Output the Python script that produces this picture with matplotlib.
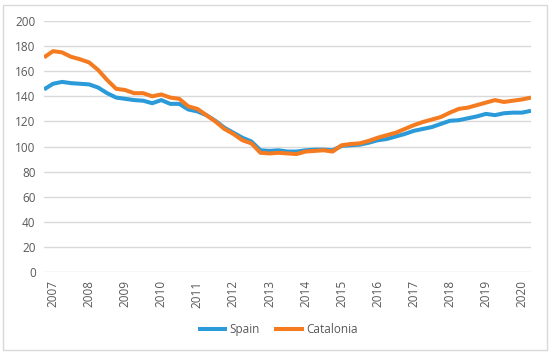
import matplotlib.pyplot as plt
from matplotlib.patches import Rectangle
import numpy as np

plt.rcParams['font.family'] = ['Open Sans', 'DejaVu Sans']

years = [str(y) for y in range(2007, 2021)]

# quarterly index values
spain = [145.5, 150, 151.5, 150.5, 150, 149.5, 147, 142.5, 139, 138,
         137, 136.5, 134.5, 137, 134, 134, 129.5, 128, 125, 120.5,
         115, 111, 107, 104, 97, 96.5, 97, 96, 96, 97,
         97.5, 97.5, 97, 100.5, 101, 101.5, 103, 105, 106, 108,
         110, 112.5, 114, 115.5, 118, 120.5, 121, 122.5, 124, 126,
         125, 126.5, 127, 127, 128.5]
catalonia = [171, 176, 175, 171.5, 169.5, 167, 161, 153, 146, 145,
             142.5, 142.5, 140, 141.5, 139, 138, 132, 130, 125, 120,
             114, 110, 105, 102.5, 95, 94.5, 95, 94.5, 94, 96,
             96.5, 97, 96, 101, 102, 102.5, 104.5, 107, 109, 111,
             114, 117, 119.5, 121.5, 123.5, 127, 130, 131, 133, 135,
             137, 135.5, 136.5, 137.5, 139]

grey = '#595959'
fig = plt.figure(figsize=(5.5, 3.54), dpi=100)
fig.patches.append(Rectangle((0.006, 0.011), 0.988, 0.975, transform=fig.transFigure,
                             fill=False, edgecolor='#d9d9d9', linewidth=1))
ax = fig.add_axes([0.08, 0.2316, 0.8855, 0.709])

x = np.arange(len(spain))
ax.plot(x, spain, color='#2a9ad8', lw=2.9, label='Spain', solid_capstyle='butt')
ax.plot(x, catalonia, color='#f57b20', lw=2.9, label='Catalonia', solid_capstyle='butt')

ax.set_xlim(0, len(spain) - 1)
ax.set_ylim(0, 200)
ax.set_yticks(range(0, 201, 20))
ax.set_xticks(np.arange(1, len(spain), 4))
ax.set_xticklabels(years, rotation=90)
ax.grid(axis='y', color='#d9d9d9', lw=1)
ax.set_axisbelow(True)
for s in ax.spines.values():
    s.set_visible(False)
ax.tick_params(length=0, labelsize=8.5, labelcolor=grey, pad=6)

fig.legend(loc='center', bbox_to_anchor=(0.505, 0.07), ncol=2, frameon=False,
           fontsize=8.5, labelcolor=grey, handlelength=2.5, handletextpad=0.2,
           columnspacing=1.2)

fig.savefig('out.png', dpi=100)
